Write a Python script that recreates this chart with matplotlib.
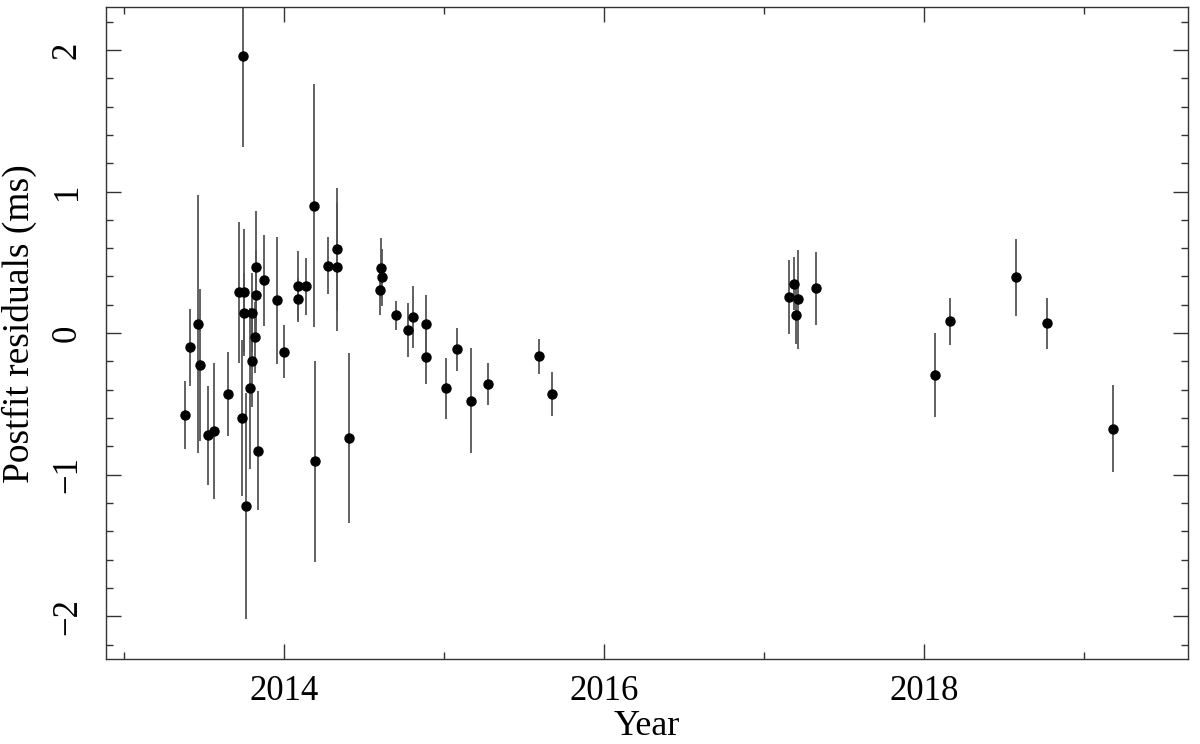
import numpy as np
import matplotlib.pyplot as plt
from matplotlib.ticker import MultipleLocator

# Residuos pós-ajuste (ms) por época
year = [2013.383, 2013.414, 2013.462, 2013.477, 2013.527, 2013.561, 2013.652,
        2013.717, 2013.738, 2013.742, 2013.748, 2013.754, 2013.765, 2013.790,
        2013.799, 2013.804, 2013.825, 2013.824, 2013.821, 2013.836, 2013.878,
        2013.955, 2013.999, 2014.089, 2014.089, 2014.141, 2014.189, 2014.195,
        2014.277, 2014.333, 2014.333, 2014.409, 2014.598, 2014.609, 2014.615,
        2014.699, 2014.777, 2014.808, 2014.890, 2014.887, 2015.014, 2015.079,
        2015.169, 2015.273, 2015.596, 2015.678, 2017.157, 2017.190, 2017.200,
        2017.213, 2017.328, 2018.068, 2018.164, 2018.573, 2018.769, 2019.179]
resid = [-0.58, -0.10, 0.064, -0.225, -0.72, -0.69, -0.43, 0.288, -0.60, 1.955,
         0.144, 0.288, -1.22, -0.39, 0.144, -0.20, 0.465, 0.267, -0.03, -0.83,
         0.373, 0.232, -0.13, 0.33, 0.24, 0.33, 0.90, -0.905, 0.476, 0.594,
         0.467, -0.74, 0.306, 0.46, 0.394, 0.125, 0.02, 0.115, 0.062, -0.17,
         -0.39, -0.115, -0.476, -0.36, -0.163, -0.43, 0.255, 0.35, 0.13, 0.24,
         0.316, -0.295, 0.083, 0.394, 0.069, -0.675]
err = [0.24, 0.27, 0.91, 0.54, 0.35, 0.48, 0.30, 0.50, 0.55, 0.64, 0.28, 0.45,
       0.80, 0.57, 0.28, 0.32, 0.40, 0.32, 0.25, 0.42, 0.32, 0.45, 0.19, 0.25,
       0.15, 0.20, 0.86, 0.71, 0.20, 0.43, 0.45, 0.60, 0.18, 0.21, 0.20, 0.10,
       0.19, 0.22, 0.21, 0.19, 0.215, 0.153, 0.37, 0.147, 0.124, 0.155, 0.26,
       0.19, 0.21, 0.35, 0.257, 0.295, 0.166, 0.273, 0.178, 0.307]

plt.rcParams['font.family'] = ['Liberation Serif', 'DejaVu Serif']

fig = plt.figure(figsize=(12, 7.44), dpi=100)
ax = fig.add_axes([0.0885, 0.1145, 0.9015, 0.8755])

ax.errorbar(year, resid, yerr=err, fmt='none', ecolor='#555555',
            elinewidth=1.3, capsize=0, zorder=2)
ax.plot(year, resid, 'o', color='black', markersize=6.5, zorder=3)

ax.set_xlim(2012.89, 2019.65)
ax.set_ylim(-2.3, 2.3)

ax.xaxis.set_major_locator(MultipleLocator(2))
ax.xaxis.set_minor_locator(MultipleLocator(1))
ax.yaxis.set_major_locator(MultipleLocator(1))
ax.yaxis.set_minor_locator(MultipleLocator(0.2))

ax.tick_params(which='both', direction='in', top=True, right=True,
               width=1.0, color='#333333', labelsize=25)
ax.tick_params(which='major', length=10.5)
ax.tick_params(which='minor', length=5.3)
ax.tick_params(axis='x', pad=12)
ax.tick_params(axis='y', pad=16)

for lab in ax.get_yticklabels():
    lab.set_rotation(90)
    lab.set_va('center')

for s in ax.spines.values():
    s.set_linewidth(1.0)
    s.set_color('#333333')

ax.set_xlabel('Year', fontsize=26, labelpad=1)
ax.set_ylabel('Postfit residuals (ms)', fontsize=27)
ax.yaxis.set_label_coords(-0.064, 0.514)

fig.savefig('out.png', dpi=100)
